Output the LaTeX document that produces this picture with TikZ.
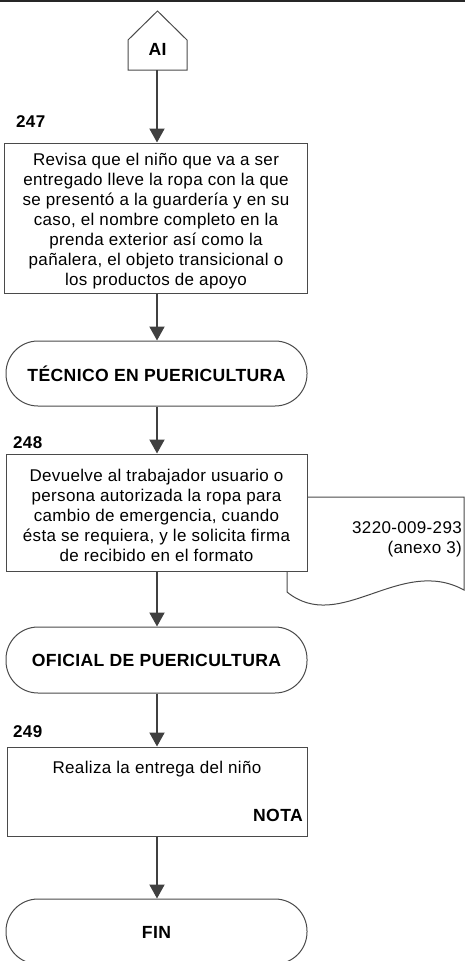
\documentclass[tikz,border=0pt]{standalone}
\usepackage{fontspec}
\setmainfont[LetterSpace=2]{Liberation Sans}
\usetikzlibrary{arrows.meta}
\definecolor{lnc}{HTML}{4A4A4A}
\definecolor{arc}{HTML}{404040}
\begin{document}
\begin{tikzpicture}[x=1pt,y=-1pt,
  txt/.style={font=\fontsize{17}{20}\selectfont,align=center,inner sep=0pt},
  bld/.style={font=\fontsize{17.6}{20}\selectfont\bfseries,inner sep=0pt},
  lbl/.style={font=\fontsize{17}{20}\selectfont\bfseries,inner sep=0pt,anchor=west},
  procbox/.style={draw=lnc,line width=1pt,fill=white,rectangle,inner sep=0pt},
  termbox/.style={draw=lnc,line width=1pt,fill=white,rectangle,rounded corners=32pt,inner sep=0pt},
  flow/.style={draw=arc,line width=1.9pt,-{Triangle[length=14pt,width=15pt]}}]
\useasboundingbox (0,0) rectangle (465,961);
\draw[line width=2pt,color=black!85] (0,1) -- (465,1);
% off-page connector AI
\draw[lnc,line width=1pt,fill=white] (128,70) -- (128,40) -- (157.5,11) -- (187,40) -- (187,70) -- cycle;
\node[bld] (ai) at (157.5,49) {AI};
\coordinate (aib) at (157,70);
% step 247
\node[lbl] (n247) at (16,122) {247};
\node[procbox,minimum width=303pt,minimum height=150pt] (b247) at (155.5,218) {};
\node[txt] (t247) at (156,221) {Revisa que el niño que va a ser\\entregado lleve la ropa con la que\\se presentó a la guardería y en su\\caso, el nombre completo en la\\prenda exterior así como la\\pañalera, el objeto transicional o\\los productos de apoyo};
% terminator 1
\node[termbox,minimum width=301pt,minimum height=65pt] (tec) at (156.5,373.5) {};
\node[bld] (tectx) at (156.5,373.5) {TÉCNICO EN PUERICULTURA};
% document
\draw[lnc,line width=1pt,fill=white] (287,497) -- (464,497) -- (464,590) .. controls (400,555) and (340,635) .. (287,592) -- cycle;
\node[txt,align=right,anchor=east] (doc) at (462,539.5) {3220-009-293\\(anexo 3)};
% step 248
\node[lbl] (n248) at (13,443) {248};
\node[procbox,minimum width=301pt,minimum height=117pt] (b248) at (156.5,512.5) {};
\node[txt] (t248) at (156.5,515) {Devuelve al trabajador usuario o\\persona autorizada la ropa para\\cambio de emergencia, cuando\\ésta se requiera, y le solicita firma\\de recibido en el formato};
% terminator 2
\node[termbox,minimum width=301pt,minimum height=66pt] (ofi) at (156.5,660) {};
\node[bld] (ofitx) at (156.5,660) {OFICIAL DE PUERICULTURA};
% step 249
\node[lbl] (n249) at (13,732) {249};
\node[procbox,minimum width=300pt,minimum height=89pt] (b249) at (157,791.5) {};
\node[txt] (t249) at (157,769) {Realiza la entrega del niño};
\node[bld,anchor=east] (nota) at (303,815) {NOTA};
% terminator FIN
\node[termbox,minimum width=301pt,minimum height=65pt] (fin) at (156.5,931.5) {};
\node[bld] (fintx) at (156.5,932) {FIN};
% connectors
\draw[flow] (aib) -- (b247.north -| aib);
\draw[flow] (b247.south -| aib) -- (tec.north -| aib);
\draw[flow] (tec.south -| aib) -- (b248.north -| aib);
\draw[flow] (b248.south -| aib) -- (ofi.north -| aib);
\draw[flow] (ofi.south -| aib) -- (b249.north -| aib);
\draw[flow] (b249.south -| aib) -- (fin.north -| aib);
\end{tikzpicture}
\end{document}
